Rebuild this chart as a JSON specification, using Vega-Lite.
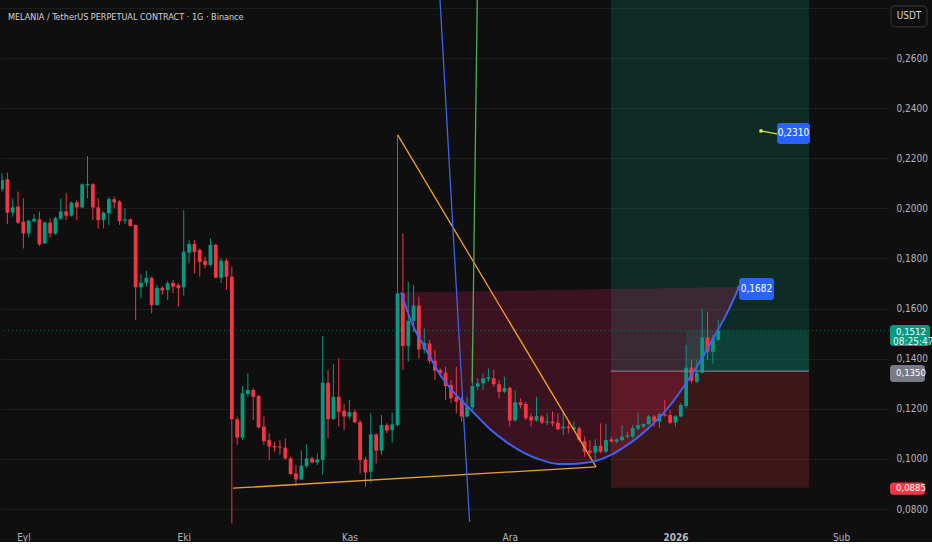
{
 "$schema": "https://vega.github.io/schema/vega-lite/v6.json",
 "width": 888, "height": 526, "padding": 0,
 "background": "#0f0f0f",
 "config": {
   "view": {"stroke": null},
   "font": "Liberation Sans Narrow, Noto Sans Condensed, DejaVu Sans Condensed, Roboto",
   "axis": {"domain": false, "ticks": false, "labelColor": "#b2b5be", "labelFontSize": 10, "labelFont": "Liberation Sans Narrow, Noto Sans Condensed, DejaVu Sans Condensed, Roboto", "title": null}
 },
 "resolve": {"scale": {"color": "independent", "strokeWidth": "independent", "size": "independent"}},
 "datasets": {
  "candles": [
{"t":"2025-08-28","o":0.2076,"h":0.2140,"l":0.2067,"c":0.2113},
{"t":"2025-08-29","o":0.2116,"h":0.2142,"l":0.1938,"c":0.1983},
{"t":"2025-08-30","o":0.1983,"h":0.2040,"l":0.1967,"c":0.2004},
{"t":"2025-08-31","o":0.2007,"h":0.2067,"l":0.1938,"c":0.1943},
{"t":"2025-09-01","o":0.1947,"h":0.2040,"l":0.1840,"c":0.1900},
{"t":"2025-09-02","o":0.1900,"h":0.1953,"l":0.1884,"c":0.1951},
{"t":"2025-09-03","o":0.1948,"h":0.1977,"l":0.1943,"c":0.1958},
{"t":"2025-09-04","o":0.1956,"h":0.1987,"l":0.1850,"c":0.1856},
{"t":"2025-09-05","o":0.1860,"h":0.1947,"l":0.1858,"c":0.1943},
{"t":"2025-09-06","o":0.1943,"h":0.1960,"l":0.1884,"c":0.1900},
{"t":"2025-09-07","o":0.1900,"h":0.1967,"l":0.1894,"c":0.1961},
{"t":"2025-09-08","o":0.1959,"h":0.2040,"l":0.1953,"c":0.1988},
{"t":"2025-09-09","o":0.1988,"h":0.2060,"l":0.1953,"c":0.1971},
{"t":"2025-09-10","o":0.1971,"h":0.2027,"l":0.1967,"c":0.2023},
{"t":"2025-09-11","o":0.2024,"h":0.2033,"l":0.1953,"c":0.2004},
{"t":"2025-09-12","o":0.2004,"h":0.2100,"l":0.2000,"c":0.2096},
{"t":"2025-09-13","o":0.2092,"h":0.2209,"l":0.2040,"c":0.2097},
{"t":"2025-09-14","o":0.2096,"h":0.2100,"l":0.1953,"c":0.2004},
{"t":"2025-09-15","o":0.2004,"h":0.2040,"l":0.1920,"c":0.1953},
{"t":"2025-09-16","o":0.1953,"h":0.1987,"l":0.1920,"c":0.1983},
{"t":"2025-09-17","o":0.1980,"h":0.2047,"l":0.1934,"c":0.2037},
{"t":"2025-09-18","o":0.2036,"h":0.2047,"l":0.2000,"c":0.2023},
{"t":"2025-09-19","o":0.2027,"h":0.2033,"l":0.1934,"c":0.1949},
{"t":"2025-09-20","o":0.1951,"h":0.2000,"l":0.1938,"c":0.1956},
{"t":"2025-09-21","o":0.1956,"h":0.1960,"l":0.1927,"c":0.1930},
{"t":"2025-09-22","o":0.1934,"h":0.1934,"l":0.1555,"c":0.1685},
{"t":"2025-09-23","o":0.1685,"h":0.1738,"l":0.1641,"c":0.1703},
{"t":"2025-09-24","o":0.1703,"h":0.1751,"l":0.1687,"c":0.1723},
{"t":"2025-09-25","o":0.1723,"h":0.1727,"l":0.1581,"c":0.1614},
{"t":"2025-09-26","o":0.1614,"h":0.1694,"l":0.1612,"c":0.1683},
{"t":"2025-09-27","o":0.1683,"h":0.1690,"l":0.1654,"c":0.1672},
{"t":"2025-09-28","o":0.1674,"h":0.1710,"l":0.1634,"c":0.1701},
{"t":"2025-09-29","o":0.1703,"h":0.1714,"l":0.1661,"c":0.1687},
{"t":"2025-09-30","o":0.1694,"h":0.1701,"l":0.1608,"c":0.1681},
{"t":"2025-10-01","o":0.1685,"h":0.1993,"l":0.1652,"c":0.1827},
{"t":"2025-10-02","o":0.1823,"h":0.1874,"l":0.1781,"c":0.1858},
{"t":"2025-10-03","o":0.1858,"h":0.1874,"l":0.1741,"c":0.1826},
{"t":"2025-10-04","o":0.1834,"h":0.1840,"l":0.1727,"c":0.1786},
{"t":"2025-10-05","o":0.1791,"h":0.1807,"l":0.1761,"c":0.1774},
{"t":"2025-10-06","o":0.1774,"h":0.1880,"l":0.1767,"c":0.1854},
{"t":"2025-10-07","o":0.1854,"h":0.1860,"l":0.1721,"c":0.1723},
{"t":"2025-10-08","o":0.1723,"h":0.1800,"l":0.1701,"c":0.1791},
{"t":"2025-10-09","o":0.1791,"h":0.1800,"l":0.1674,"c":0.1727},
{"t":"2025-10-10","o":0.1727,"h":0.1767,"l":0.0743,"c":0.1158},
{"t":"2025-10-11","o":0.1158,"h":0.1169,"l":0.1056,"c":0.1085},
{"t":"2025-10-12","o":0.1085,"h":0.1291,"l":0.1075,"c":0.1262},
{"t":"2025-10-13","o":0.1259,"h":0.1341,"l":0.1248,"c":0.1275},
{"t":"2025-10-14","o":0.1275,"h":0.1282,"l":0.1155,"c":0.1248},
{"t":"2025-10-15","o":0.1251,"h":0.1255,"l":0.1122,"c":0.1126},
{"t":"2025-10-16","o":0.1129,"h":0.1169,"l":0.1056,"c":0.1071},
{"t":"2025-10-17","o":0.1075,"h":0.1102,"l":0.0996,"c":0.1049},
{"t":"2025-10-18","o":0.1052,"h":0.1069,"l":0.1029,"c":0.1046},
{"t":"2025-10-19","o":0.1049,"h":0.1075,"l":0.1016,"c":0.1045},
{"t":"2025-10-20","o":0.1045,"h":0.1082,"l":0.0996,"c":0.1002},
{"t":"2025-10-21","o":0.1002,"h":0.1009,"l":0.0936,"c":0.0940},
{"t":"2025-10-22","o":0.0942,"h":0.0976,"l":0.0892,"c":0.0918},
{"t":"2025-10-23","o":0.0918,"h":0.1033,"l":0.0916,"c":0.0973},
{"t":"2025-10-24","o":0.0972,"h":0.1058,"l":0.0962,"c":0.1002},
{"t":"2025-10-25","o":0.1002,"h":0.1009,"l":0.0982,"c":0.0986},
{"t":"2025-10-26","o":0.0986,"h":0.1022,"l":0.0976,"c":0.0998},
{"t":"2025-10-27","o":0.0996,"h":0.1490,"l":0.0936,"c":0.1304},
{"t":"2025-10-28","o":0.1304,"h":0.1355,"l":0.1082,"c":0.1159},
{"t":"2025-10-29","o":0.1159,"h":0.1379,"l":0.1155,"c":0.1248},
{"t":"2025-10-30","o":0.1248,"h":0.1401,"l":0.1129,"c":0.1188},
{"t":"2025-10-31","o":0.1192,"h":0.1219,"l":0.1115,"c":0.1169},
{"t":"2025-11-01","o":0.1169,"h":0.1235,"l":0.1158,"c":0.1187},
{"t":"2025-11-02","o":0.1187,"h":0.1198,"l":0.1142,"c":0.1146},
{"t":"2025-11-03","o":0.1147,"h":0.1155,"l":0.0942,"c":0.0996},
{"t":"2025-11-04","o":0.0998,"h":0.1009,"l":0.0889,"c":0.0946},
{"t":"2025-11-05","o":0.0949,"h":0.1182,"l":0.0905,"c":0.1098},
{"t":"2025-11-06","o":0.1098,"h":0.1102,"l":0.0982,"c":0.1033},
{"t":"2025-11-07","o":0.1033,"h":0.1175,"l":0.1016,"c":0.1135},
{"t":"2025-11-08","o":0.1135,"h":0.1142,"l":0.1102,"c":0.1113},
{"t":"2025-11-09","o":0.1115,"h":0.1185,"l":0.1065,"c":0.1138},
{"t":"2025-11-10","o":0.1135,"h":0.2293,"l":0.1129,"c":0.1661},
{"t":"2025-11-11","o":0.1661,"h":0.1900,"l":0.1355,"c":0.1451},
{"t":"2025-11-12","o":0.1451,"h":0.1707,"l":0.1388,"c":0.1551},
{"t":"2025-11-13","o":0.1551,"h":0.1694,"l":0.1508,"c":0.1612},
{"t":"2025-11-14","o":0.1612,"h":0.1648,"l":0.1401,"c":0.1437},
{"t":"2025-11-15","o":0.1437,"h":0.1521,"l":0.1421,"c":0.1464},
{"t":"2025-11-16","o":0.1461,"h":0.1475,"l":0.1381,"c":0.1391},
{"t":"2025-11-17","o":0.1392,"h":0.1435,"l":0.1315,"c":0.1352},
{"t":"2025-11-18","o":0.1355,"h":0.1361,"l":0.1328,"c":0.1342},
{"t":"2025-11-19","o":0.1344,"h":0.1368,"l":0.1235,"c":0.1291},
{"t":"2025-11-20","o":0.1295,"h":0.1315,"l":0.1222,"c":0.1242},
{"t":"2025-11-21","o":0.1248,"h":0.1368,"l":0.1182,"c":0.1228},
{"t":"2025-11-22","o":0.1235,"h":0.1248,"l":0.1149,"c":0.1169},
{"t":"2025-11-23","o":0.1169,"h":0.1248,"l":0.1165,"c":0.1208},
{"t":"2025-11-24","o":0.1206,"h":0.1448,"l":0.1195,"c":0.1291},
{"t":"2025-11-25","o":0.1288,"h":0.1322,"l":0.1275,"c":0.1302},
{"t":"2025-11-26","o":0.1302,"h":0.1342,"l":0.1275,"c":0.1322},
{"t":"2025-11-27","o":0.1318,"h":0.1361,"l":0.1308,"c":0.1326},
{"t":"2025-11-28","o":0.1322,"h":0.1355,"l":0.1288,"c":0.1298},
{"t":"2025-11-29","o":0.1298,"h":0.1315,"l":0.1242,"c":0.1268},
{"t":"2025-11-30","o":0.1268,"h":0.1328,"l":0.1262,"c":0.1284},
{"t":"2025-12-01","o":0.1284,"h":0.1288,"l":0.1129,"c":0.1153},
{"t":"2025-12-02","o":0.1153,"h":0.1275,"l":0.1149,"c":0.1226},
{"t":"2025-12-03","o":0.1226,"h":0.1242,"l":0.1202,"c":0.1215},
{"t":"2025-12-04","o":0.1219,"h":0.1228,"l":0.1155,"c":0.1162},
{"t":"2025-12-05","o":0.1169,"h":0.1182,"l":0.1129,"c":0.1153},
{"t":"2025-12-06","o":0.1153,"h":0.1248,"l":0.1149,"c":0.1171},
{"t":"2025-12-07","o":0.1169,"h":0.1175,"l":0.1139,"c":0.1145},
{"t":"2025-12-08","o":0.1145,"h":0.1182,"l":0.1135,"c":0.1149},
{"t":"2025-12-09","o":0.1149,"h":0.1189,"l":0.1129,"c":0.1142},
{"t":"2025-12-10","o":0.1145,"h":0.1182,"l":0.1115,"c":0.1118},
{"t":"2025-12-11","o":0.1122,"h":0.1189,"l":0.1095,"c":0.1129},
{"t":"2025-12-12","o":0.1129,"h":0.1149,"l":0.1102,"c":0.1122},
{"t":"2025-12-13","o":0.1118,"h":0.1149,"l":0.1115,"c":0.1126},
{"t":"2025-12-14","o":0.1122,"h":0.1129,"l":0.1069,"c":0.1075},
{"t":"2025-12-15","o":0.1071,"h":0.1089,"l":0.1009,"c":0.1029},
{"t":"2025-12-16","o":0.1033,"h":0.1075,"l":0.1016,"c":0.1025},
{"t":"2025-12-17","o":0.1025,"h":0.1078,"l":0.0996,"c":0.1052},
{"t":"2025-12-18","o":0.1052,"h":0.1142,"l":0.1022,"c":0.1029},
{"t":"2025-12-19","o":0.1029,"h":0.1139,"l":0.1022,"c":0.1075},
{"t":"2025-12-20","o":0.1078,"h":0.1089,"l":0.1065,"c":0.1069},
{"t":"2025-12-21","o":0.1069,"h":0.1082,"l":0.1062,"c":0.1078},
{"t":"2025-12-22","o":0.1075,"h":0.1135,"l":0.1069,"c":0.1089},
{"t":"2025-12-23","o":0.1089,"h":0.1109,"l":0.1082,"c":0.1094},
{"t":"2025-12-24","o":0.1089,"h":0.1135,"l":0.1082,"c":0.1123},
{"t":"2025-12-25","o":0.1121,"h":0.1185,"l":0.1115,"c":0.1134},
{"t":"2025-12-26","o":0.1129,"h":0.1142,"l":0.1122,"c":0.1139},
{"t":"2025-12-27","o":0.1139,"h":0.1175,"l":0.1135,"c":0.1169},
{"t":"2025-12-28","o":0.1169,"h":0.1175,"l":0.1129,"c":0.1149},
{"t":"2025-12-29","o":0.1149,"h":0.1185,"l":0.1122,"c":0.1178},
{"t":"2025-12-30","o":0.1178,"h":0.1235,"l":0.1169,"c":0.1173},
{"t":"2025-12-31","o":0.1175,"h":0.1195,"l":0.1139,"c":0.1145},
{"t":"2026-01-01","o":0.1145,"h":0.1175,"l":0.1129,"c":0.1171},
{"t":"2026-01-02","o":0.1169,"h":0.1222,"l":0.1166,"c":0.1215},
{"t":"2026-01-03","o":0.1211,"h":0.1455,"l":0.1202,"c":0.1364},
{"t":"2026-01-04","o":0.1364,"h":0.1395,"l":0.1302,"c":0.1312},
{"t":"2026-01-05","o":0.1308,"h":0.1395,"l":0.1302,"c":0.1344},
{"t":"2026-01-06","o":0.1344,"h":0.1597,"l":0.1341,"c":0.1485},
{"t":"2026-01-07","o":0.1485,"h":0.1588,"l":0.1395,"c":0.1428},
{"t":"2026-01-08","o":0.1428,"h":0.1494,"l":0.1381,"c":0.1481},
{"t":"2026-01-09","o":0.1475,"h":0.1554,"l":0.1472,"c":0.1512}
  ],
  "arc": [
{"t":"2025-11-10T15:36:00Z","p":0.1664,"q":0.1664},
{"t":"2025-11-13T02:00:00Z","p":0.1522,"q":0.1665},
{"t":"2025-11-14T22:48:00Z","p":0.1451,"q":0.1666},
{"t":"2025-11-18T03:07:00Z","p":0.1331,"q":0.1667},
{"t":"2025-11-21T07:26:00Z","p":0.1247,"q":0.1668},
{"t":"2025-11-24T07:26:00Z","p":0.1183,"q":0.1669},
{"t":"2025-11-27T11:46:00Z","p":0.1115,"q":0.1670},
{"t":"2025-11-30T16:05:00Z","p":0.1063,"q":0.1671},
{"t":"2025-12-03T15:50:00Z","p":0.1024,"q":0.1672},
{"t":"2025-12-06T20:10:00Z","p":0.0996,"q":0.1673},
{"t":"2025-12-10T00:29:00Z","p":0.0980,"q":0.1674},
{"t":"2025-12-12T10:48:00Z","p":0.0980,"q":0.1675},
{"t":"2025-12-14T21:22:00Z","p":0.0984,"q":0.1676},
{"t":"2025-12-17T03:07:00Z","p":0.0992,"q":0.1677},
{"t":"2025-12-19T22:34:00Z","p":0.1016,"q":0.1678},
{"t":"2025-12-22T08:53:00Z","p":0.1047,"q":0.1679},
{"t":"2025-12-24T23:46:00Z","p":0.1087,"q":0.1679},
{"t":"2025-12-27T23:31:00Z","p":0.1143,"q":0.1680},
{"t":"2025-12-31T03:50:00Z","p":0.1219,"q":0.1682},
{"t":"2026-01-02T23:46:00Z","p":0.1303,"q":0.1683},
{"t":"2026-01-05T18:43:00Z","p":0.1395,"q":0.1684},
{"t":"2026-01-08T05:02:00Z","p":0.1487,"q":0.1685},
{"t":"2026-01-10T19:55:00Z","p":0.1590,"q":0.1685},
{"t":"2026-01-12T21:22:00Z","p":0.1686,"q":0.1686}
  ],
  "zones": [
{"zone":"profit","t1":"2025-12-19T22:34:00Z","t2":"2026-01-25T23:30:00Z","p1":0.1350,"p2":0.30},
{"zone":"loss","t1":"2025-12-19T22:34:00Z","t2":"2026-01-25T23:30:00Z","p1":0.0885,"p2":0.1350},
{"zone":"open","t1":"2026-01-02T23:17:00Z","t2":"2026-01-25T23:30:00Z","p1":0.1350,"p2":0.1512}
  ],
  "segments": [
{"name":"support","t1":"2025-10-10T05:17:00Z","p1":0.0883,"t2":"2025-12-17T03:07:00Z","p2":0.0968},
{"name":"down","t1":"2025-11-10T00:43:00Z","p1":0.2293,"t2":"2025-12-17T03:07:00Z","p2":0.0968},
{"name":"steep","t1":"2025-11-17T22:48:00Z","p1":0.2832,"t2":"2025-11-23T11:31:00Z","p2":0.0748},
{"name":"green","t1":"2025-11-24T22:05:00Z","p1":0.2832,"t2":"2025-11-23T23:17:00Z","p2":0.1305},
{"name":"entry","t1":"2025-12-19T22:34:00Z","p1":0.1350,"t2":"2026-01-25T23:30:00Z","p2":0.1350},
{"name":"yellow","t1":"2026-01-17T00:00:00Z","p1":0.2309,"t2":"2026-01-20T00:00:00Z","p2":0.2297}
  ],
  "dots": [
{"k":"blue","t":"2026-01-12T21:22:00Z","p":0.1686},
{"k":"yellow","t":"2026-01-17T00:00:00Z","p":0.2309}
  ],
  "boxes": [
{"kind":"blue","t1":"2026-01-12T21:22:00Z","t2":"2026-01-19T10:19:00Z","p1":0.1722,"p2":0.1634},
{"kind":"blue","t1":"2026-01-20T00:00:00Z","t2":"2026-01-26T04:05:00Z","p1":0.2341,"p2":0.2257},
{"kind":"green","t1":"2026-02-10T03:22:00Z","t2":"2026-02-17T14:53:00Z","p1":0.1534,"p2":0.1451},
{"kind":"gray","t1":"2026-02-10T03:22:00Z","t2":"2026-02-16T16:19:00Z","p1":0.1375,"p2":0.1307},
{"kind":"red","t1":"2026-02-10T03:22:00Z","t2":"2026-02-16T16:19:00Z","p1":0.0906,"p2":0.0857}
  ],
  "usdt": [
{"t1":"2026-02-10T07:41:00Z","t2":"2026-02-17T01:26:00Z","p1":0.2808,"p2":0.2724}
  ],
  "leftText": [
{"kind":"title","t":"2025-08-29T02:53:00Z","p":0.2764,"label":"MELANIA / TetherUS PERPETUAL CONTRACT · 1G · Binance"},
{"kind":"tag","t":"2026-02-11T06:14:00Z","p":0.1505,"label":"0,1512"},
{"kind":"time","t":"2026-02-10T16:48:00Z","p":0.1465,"label":"08:25:47"},
{"kind":"tag","t":"2026-02-11T06:14:00Z","p":0.1342,"label":"0,1350"},
{"kind":"tag","t":"2026-02-11T06:14:00Z","p":0.0882,"label":"0,0885"}
  ],
  "centerText": [
{"kind":"tag","t":"2026-01-16T03:50:00Z","p":0.1678,"label":"0,1682"},
{"kind":"tag","t":"2026-01-23T01:55:00Z","p":0.2299,"label":"0,2310"},
{"kind":"title","t":"2026-02-13T16:34:00Z","p":0.2766,"label":"USDT"}
  ]
 },
 "layer": [
  {
   "data": {"name": "zones"},
   "mark": {"type": "rect", "clip": true, "opacity": 0.2},
   "encoding": {
    "x": {"field": "t1", "type": "temporal", "scale": {"type": "utc", "padding": 0, "domain": [{"year": 2025, "month": 8, "date": 27, "hours": 19, "minutes": 30, "utc": true}, {"year": 2026, "month": 2, "date": 9, "hours": 22, "minutes": 48, "utc": true}]},
      "axis": {"values": [{"year": 2025, "month": 9, "date": 1, "utc": true}, {"year": 2025, "month": 10, "date": 1, "utc": true}, {"year": 2025, "month": 11, "date": 1, "utc": true}, {"year": 2025, "month": 12, "date": 1, "utc": true}, {"year": 2026, "month": 1, "date": 1, "utc": true}, {"year": 2026, "month": 2, "date": 1, "utc": true}], "labelExpr": "utcmonth(datum.value) === 0 ? '' + utcyear(datum.value) : ['Oca','Şub','Mar','Nis','May','Haz','Tem','Ağu','Eyl','Eki','Kas','Ara'][utcmonth(datum.value)]", "labelFontWeight": {"condition": {"test": "utcmonth(datum.value) === 0", "value": "bold"}, "value": "normal"}, "grid": false, "labelPadding": 6}},
    "x2": {"field": "t2"},
    "y": {"field": "p1", "type": "quantitative", "scale": {"domain": [0.07322, 0.28315], "nice": false, "zero": false, "padding": 0},
      "axis": {"orient": "right", "values": [0.08, 0.10, 0.12, 0.14, 0.16, 0.18, 0.20, 0.22, 0.24, 0.26, 0.28], "grid": true, "gridColor": "#1e1e1e", "labelPadding": 7, "labelAlign": "left", "labelExpr": "datum.value > 0.27 ? '' : replace(format(datum.value, '.4f'), '.', ',')"}},
    "y2": {"field": "p2"},
    "color": {"field": "zone", "type": "nominal", "scale": {"domain": ["profit", "loss", "open"], "range": ["#089981", "#f23645", "#089981"]}, "legend": null}
   }
  },
  {
   "data": {"name": "arc"},
   "mark": {"type": "area", "interpolate": "monotone", "color": "#e91e63", "opacity": 0.2},
   "encoding": {
    "x": {"field": "t", "type": "temporal", "scale": {"type": "utc", "padding": 0, "domain": [{"year": 2025, "month": 8, "date": 27, "hours": 19, "minutes": 30, "utc": true}, {"year": 2026, "month": 2, "date": 9, "hours": 22, "minutes": 48, "utc": true}]},
      "axis": {"values": [{"year": 2025, "month": 9, "date": 1, "utc": true}, {"year": 2025, "month": 10, "date": 1, "utc": true}, {"year": 2025, "month": 11, "date": 1, "utc": true}, {"year": 2025, "month": 12, "date": 1, "utc": true}, {"year": 2026, "month": 1, "date": 1, "utc": true}, {"year": 2026, "month": 2, "date": 1, "utc": true}], "labelExpr": "utcmonth(datum.value) === 0 ? '' + utcyear(datum.value) : ['Oca','Şub','Mar','Nis','May','Haz','Tem','Ağu','Eyl','Eki','Kas','Ara'][utcmonth(datum.value)]", "labelFontWeight": {"condition": {"test": "utcmonth(datum.value) === 0", "value": "bold"}, "value": "normal"}, "grid": false, "labelPadding": 6}},
    "y": {"field": "p", "type": "quantitative", "scale": {"domain": [0.07322, 0.28315], "nice": false, "zero": false, "padding": 0},
      "axis": {"orient": "right", "values": [0.08, 0.10, 0.12, 0.14, 0.16, 0.18, 0.20, 0.22, 0.24, 0.26, 0.28], "grid": true, "gridColor": "#1e1e1e", "labelPadding": 7, "labelAlign": "left", "labelExpr": "datum.value > 0.27 ? '' : replace(format(datum.value, '.4f'), '.', ',')"}},
    "y2": {"field": "q"}
   }
  },
  {
   "data": {"name": "candles"},
   "mark": {"type": "rule", "strokeWidth": 1, "clip": true},
   "encoding": {
    "x": {"field": "t", "type": "temporal", "scale": {"type": "utc", "padding": 0, "domain": [{"year": 2025, "month": 8, "date": 27, "hours": 19, "minutes": 30, "utc": true}, {"year": 2026, "month": 2, "date": 9, "hours": 22, "minutes": 48, "utc": true}]},
      "axis": {"values": [{"year": 2025, "month": 9, "date": 1, "utc": true}, {"year": 2025, "month": 10, "date": 1, "utc": true}, {"year": 2025, "month": 11, "date": 1, "utc": true}, {"year": 2025, "month": 12, "date": 1, "utc": true}, {"year": 2026, "month": 1, "date": 1, "utc": true}, {"year": 2026, "month": 2, "date": 1, "utc": true}], "labelExpr": "utcmonth(datum.value) === 0 ? '' + utcyear(datum.value) : ['Oca','Şub','Mar','Nis','May','Haz','Tem','Ağu','Eyl','Eki','Kas','Ara'][utcmonth(datum.value)]", "labelFontWeight": {"condition": {"test": "utcmonth(datum.value) === 0", "value": "bold"}, "value": "normal"}, "grid": false, "labelPadding": 6}},
    "y": {"field": "l", "type": "quantitative", "scale": {"domain": [0.07322, 0.28315], "nice": false, "zero": false, "padding": 0},
      "axis": {"orient": "right", "values": [0.08, 0.10, 0.12, 0.14, 0.16, 0.18, 0.20, 0.22, 0.24, 0.26, 0.28], "grid": true, "gridColor": "#1e1e1e", "labelPadding": 7, "labelAlign": "left", "labelExpr": "datum.value > 0.27 ? '' : replace(format(datum.value, '.4f'), '.', ',')"}},
    "y2": {"field": "h"},
    "color": {"condition": {"test": "datum.c >= datum.o", "value": "#089981"}, "value": "#f23645"}
   }
  },
  {
   "data": {"name": "candles"},
   "mark": {"type": "bar", "size": 3.8, "clip": true},
   "encoding": {
    "x": {"field": "t", "type": "temporal", "scale": {"type": "utc", "padding": 0, "domain": [{"year": 2025, "month": 8, "date": 27, "hours": 19, "minutes": 30, "utc": true}, {"year": 2026, "month": 2, "date": 9, "hours": 22, "minutes": 48, "utc": true}]},
      "axis": {"values": [{"year": 2025, "month": 9, "date": 1, "utc": true}, {"year": 2025, "month": 10, "date": 1, "utc": true}, {"year": 2025, "month": 11, "date": 1, "utc": true}, {"year": 2025, "month": 12, "date": 1, "utc": true}, {"year": 2026, "month": 1, "date": 1, "utc": true}, {"year": 2026, "month": 2, "date": 1, "utc": true}], "labelExpr": "utcmonth(datum.value) === 0 ? '' + utcyear(datum.value) : ['Oca','Şub','Mar','Nis','May','Haz','Tem','Ağu','Eyl','Eki','Kas','Ara'][utcmonth(datum.value)]", "labelFontWeight": {"condition": {"test": "utcmonth(datum.value) === 0", "value": "bold"}, "value": "normal"}, "grid": false, "labelPadding": 6}},
    "y": {"field": "o", "type": "quantitative", "scale": {"domain": [0.07322, 0.28315], "nice": false, "zero": false, "padding": 0},
      "axis": {"orient": "right", "values": [0.08, 0.10, 0.12, 0.14, 0.16, 0.18, 0.20, 0.22, 0.24, 0.26, 0.28], "grid": true, "gridColor": "#1e1e1e", "labelPadding": 7, "labelAlign": "left", "labelExpr": "datum.value > 0.27 ? '' : replace(format(datum.value, '.4f'), '.', ',')"}},
    "y2": {"field": "c"},
    "color": {"condition": {"test": "datum.c >= datum.o", "value": "#089981"}, "value": "#f23645"}
   }
  },
  {
   "data": {"name": "segments"},
   "mark": {"type": "rule", "clip": true},
   "encoding": {
    "x": {"field": "t1", "type": "temporal", "scale": {"type": "utc", "padding": 0, "domain": [{"year": 2025, "month": 8, "date": 27, "hours": 19, "minutes": 30, "utc": true}, {"year": 2026, "month": 2, "date": 9, "hours": 22, "minutes": 48, "utc": true}]},
      "axis": {"values": [{"year": 2025, "month": 9, "date": 1, "utc": true}, {"year": 2025, "month": 10, "date": 1, "utc": true}, {"year": 2025, "month": 11, "date": 1, "utc": true}, {"year": 2025, "month": 12, "date": 1, "utc": true}, {"year": 2026, "month": 1, "date": 1, "utc": true}, {"year": 2026, "month": 2, "date": 1, "utc": true}], "labelExpr": "utcmonth(datum.value) === 0 ? '' + utcyear(datum.value) : ['Oca','Şub','Mar','Nis','May','Haz','Tem','Ağu','Eyl','Eki','Kas','Ara'][utcmonth(datum.value)]", "labelFontWeight": {"condition": {"test": "utcmonth(datum.value) === 0", "value": "bold"}, "value": "normal"}, "grid": false, "labelPadding": 6}},
    "x2": {"field": "t2"},
    "y": {"field": "p1", "type": "quantitative", "scale": {"domain": [0.07322, 0.28315], "nice": false, "zero": false, "padding": 0},
      "axis": {"orient": "right", "values": [0.08, 0.10, 0.12, 0.14, 0.16, 0.18, 0.20, 0.22, 0.24, 0.26, 0.28], "grid": true, "gridColor": "#1e1e1e", "labelPadding": 7, "labelAlign": "left", "labelExpr": "datum.value > 0.27 ? '' : replace(format(datum.value, '.4f'), '.', ',')"}},
    "y2": {"field": "p2"},
    "color": {"field": "name", "type": "nominal", "scale": {"domain": ["support", "down", "steep", "green", "entry", "yellow"], "range": ["#f0a030", "#f0a030", "#3f63e8", "#4caf50", "#787b86", "#e3e33b"]}, "legend": null},
    "strokeWidth": {"field": "name", "type": "nominal", "scale": {"domain": ["support", "down", "steep", "green", "entry", "yellow"], "range": [1.3, 1.3, 1.6, 1.3, 1.2, 1.5]}, "legend": null}
   }
  },
  {
   "data": {"name": "arc"},
   "mark": {"type": "line", "interpolate": "monotone", "color": "#4361ee", "strokeWidth": 2},
   "encoding": {
    "x": {"field": "t", "type": "temporal", "scale": {"type": "utc", "padding": 0, "domain": [{"year": 2025, "month": 8, "date": 27, "hours": 19, "minutes": 30, "utc": true}, {"year": 2026, "month": 2, "date": 9, "hours": 22, "minutes": 48, "utc": true}]},
      "axis": {"values": [{"year": 2025, "month": 9, "date": 1, "utc": true}, {"year": 2025, "month": 10, "date": 1, "utc": true}, {"year": 2025, "month": 11, "date": 1, "utc": true}, {"year": 2025, "month": 12, "date": 1, "utc": true}, {"year": 2026, "month": 1, "date": 1, "utc": true}, {"year": 2026, "month": 2, "date": 1, "utc": true}], "labelExpr": "utcmonth(datum.value) === 0 ? '' + utcyear(datum.value) : ['Oca','Şub','Mar','Nis','May','Haz','Tem','Ağu','Eyl','Eki','Kas','Ara'][utcmonth(datum.value)]", "labelFontWeight": {"condition": {"test": "utcmonth(datum.value) === 0", "value": "bold"}, "value": "normal"}, "grid": false, "labelPadding": 6}},
    "y": {"field": "p", "type": "quantitative", "scale": {"domain": [0.07322, 0.28315], "nice": false, "zero": false, "padding": 0},
      "axis": {"orient": "right", "values": [0.08, 0.10, 0.12, 0.14, 0.16, 0.18, 0.20, 0.22, 0.24, 0.26, 0.28], "grid": true, "gridColor": "#1e1e1e", "labelPadding": 7, "labelAlign": "left", "labelExpr": "datum.value > 0.27 ? '' : replace(format(datum.value, '.4f'), '.', ',')"}}
   }
  },
  {
   "data": {"values": [{"p": 0.1512}]},
   "mark": {"type": "rule", "color": "#089981", "strokeDash": [1, 3], "opacity": 0.6},
   "encoding": {
    "y": {"field": "p", "type": "quantitative", "scale": {"domain": [0.07322, 0.28315], "nice": false, "zero": false, "padding": 0},
      "axis": {"orient": "right", "values": [0.08, 0.10, 0.12, 0.14, 0.16, 0.18, 0.20, 0.22, 0.24, 0.26, 0.28], "grid": true, "gridColor": "#1e1e1e", "labelPadding": 7, "labelAlign": "left", "labelExpr": "datum.value > 0.27 ? '' : replace(format(datum.value, '.4f'), '.', ',')"}}
   }
  },
  {
   "data": {"name": "dots"},
   "mark": {"type": "point", "filled": true, "size": 14, "opacity": 1},
   "encoding": {
    "x": {"field": "t", "type": "temporal", "scale": {"type": "utc", "padding": 0, "domain": [{"year": 2025, "month": 8, "date": 27, "hours": 19, "minutes": 30, "utc": true}, {"year": 2026, "month": 2, "date": 9, "hours": 22, "minutes": 48, "utc": true}]},
      "axis": {"values": [{"year": 2025, "month": 9, "date": 1, "utc": true}, {"year": 2025, "month": 10, "date": 1, "utc": true}, {"year": 2025, "month": 11, "date": 1, "utc": true}, {"year": 2025, "month": 12, "date": 1, "utc": true}, {"year": 2026, "month": 1, "date": 1, "utc": true}, {"year": 2026, "month": 2, "date": 1, "utc": true}], "labelExpr": "utcmonth(datum.value) === 0 ? '' + utcyear(datum.value) : ['Oca','Şub','Mar','Nis','May','Haz','Tem','Ağu','Eyl','Eki','Kas','Ara'][utcmonth(datum.value)]", "labelFontWeight": {"condition": {"test": "utcmonth(datum.value) === 0", "value": "bold"}, "value": "normal"}, "grid": false, "labelPadding": 6}},
    "y": {"field": "p", "type": "quantitative", "scale": {"domain": [0.07322, 0.28315], "nice": false, "zero": false, "padding": 0},
      "axis": {"orient": "right", "values": [0.08, 0.10, 0.12, 0.14, 0.16, 0.18, 0.20, 0.22, 0.24, 0.26, 0.28], "grid": true, "gridColor": "#1e1e1e", "labelPadding": 7, "labelAlign": "left", "labelExpr": "datum.value > 0.27 ? '' : replace(format(datum.value, '.4f'), '.', ',')"}},
    "color": {"field": "k", "type": "nominal", "scale": {"domain": ["blue", "yellow"], "range": ["#4361ee", "#e3e33b"]}, "legend": null}
   }
  },
  {
   "data": {"name": "boxes"},
   "mark": {"type": "rect", "cornerRadius": 3},
   "encoding": {
    "x": {"field": "t1", "type": "temporal", "scale": {"type": "utc", "padding": 0, "domain": [{"year": 2025, "month": 8, "date": 27, "hours": 19, "minutes": 30, "utc": true}, {"year": 2026, "month": 2, "date": 9, "hours": 22, "minutes": 48, "utc": true}]},
      "axis": {"values": [{"year": 2025, "month": 9, "date": 1, "utc": true}, {"year": 2025, "month": 10, "date": 1, "utc": true}, {"year": 2025, "month": 11, "date": 1, "utc": true}, {"year": 2025, "month": 12, "date": 1, "utc": true}, {"year": 2026, "month": 1, "date": 1, "utc": true}, {"year": 2026, "month": 2, "date": 1, "utc": true}], "labelExpr": "utcmonth(datum.value) === 0 ? '' + utcyear(datum.value) : ['Oca','Şub','Mar','Nis','May','Haz','Tem','Ağu','Eyl','Eki','Kas','Ara'][utcmonth(datum.value)]", "labelFontWeight": {"condition": {"test": "utcmonth(datum.value) === 0", "value": "bold"}, "value": "normal"}, "grid": false, "labelPadding": 6}},
    "x2": {"field": "t2"},
    "y": {"field": "p1", "type": "quantitative", "scale": {"domain": [0.07322, 0.28315], "nice": false, "zero": false, "padding": 0},
      "axis": {"orient": "right", "values": [0.08, 0.10, 0.12, 0.14, 0.16, 0.18, 0.20, 0.22, 0.24, 0.26, 0.28], "grid": true, "gridColor": "#1e1e1e", "labelPadding": 7, "labelAlign": "left", "labelExpr": "datum.value > 0.27 ? '' : replace(format(datum.value, '.4f'), '.', ',')"}},
    "y2": {"field": "p2"},
    "color": {"field": "kind", "type": "nominal", "scale": {"domain": ["blue", "green", "gray", "red"], "range": ["#2962ff", "#089981", "#787b86", "#f23645"]}, "legend": null}
   }
  },
  {
   "data": {"name": "usdt"},
   "mark": {"type": "rect", "cornerRadius": 4, "fill": "#0f0f0f", "stroke": "#3a3d45", "strokeWidth": 1},
   "encoding": {
    "x": {"field": "t1", "type": "temporal", "scale": {"type": "utc", "padding": 0, "domain": [{"year": 2025, "month": 8, "date": 27, "hours": 19, "minutes": 30, "utc": true}, {"year": 2026, "month": 2, "date": 9, "hours": 22, "minutes": 48, "utc": true}]},
      "axis": {"values": [{"year": 2025, "month": 9, "date": 1, "utc": true}, {"year": 2025, "month": 10, "date": 1, "utc": true}, {"year": 2025, "month": 11, "date": 1, "utc": true}, {"year": 2025, "month": 12, "date": 1, "utc": true}, {"year": 2026, "month": 1, "date": 1, "utc": true}, {"year": 2026, "month": 2, "date": 1, "utc": true}], "labelExpr": "utcmonth(datum.value) === 0 ? '' + utcyear(datum.value) : ['Oca','Şub','Mar','Nis','May','Haz','Tem','Ağu','Eyl','Eki','Kas','Ara'][utcmonth(datum.value)]", "labelFontWeight": {"condition": {"test": "utcmonth(datum.value) === 0", "value": "bold"}, "value": "normal"}, "grid": false, "labelPadding": 6}},
    "x2": {"field": "t2"},
    "y": {"field": "p1", "type": "quantitative", "scale": {"domain": [0.07322, 0.28315], "nice": false, "zero": false, "padding": 0},
      "axis": {"orient": "right", "values": [0.08, 0.10, 0.12, 0.14, 0.16, 0.18, 0.20, 0.22, 0.24, 0.26, 0.28], "grid": true, "gridColor": "#1e1e1e", "labelPadding": 7, "labelAlign": "left", "labelExpr": "datum.value > 0.27 ? '' : replace(format(datum.value, '.4f'), '.', ',')"}},
    "y2": {"field": "p2"}
   }
  },
  {
   "data": {"name": "leftText"},
   "mark": {"type": "text", "align": "left", "baseline": "middle"},
   "encoding": {
    "x": {"field": "t", "type": "temporal", "scale": {"type": "utc", "padding": 0, "domain": [{"year": 2025, "month": 8, "date": 27, "hours": 19, "minutes": 30, "utc": true}, {"year": 2026, "month": 2, "date": 9, "hours": 22, "minutes": 48, "utc": true}]},
      "axis": {"values": [{"year": 2025, "month": 9, "date": 1, "utc": true}, {"year": 2025, "month": 10, "date": 1, "utc": true}, {"year": 2025, "month": 11, "date": 1, "utc": true}, {"year": 2025, "month": 12, "date": 1, "utc": true}, {"year": 2026, "month": 1, "date": 1, "utc": true}, {"year": 2026, "month": 2, "date": 1, "utc": true}], "labelExpr": "utcmonth(datum.value) === 0 ? '' + utcyear(datum.value) : ['Oca','Şub','Mar','Nis','May','Haz','Tem','Ağu','Eyl','Eki','Kas','Ara'][utcmonth(datum.value)]", "labelFontWeight": {"condition": {"test": "utcmonth(datum.value) === 0", "value": "bold"}, "value": "normal"}, "grid": false, "labelPadding": 6}},
    "y": {"field": "p", "type": "quantitative", "scale": {"domain": [0.07322, 0.28315], "nice": false, "zero": false, "padding": 0},
      "axis": {"orient": "right", "values": [0.08, 0.10, 0.12, 0.14, 0.16, 0.18, 0.20, 0.22, 0.24, 0.26, 0.28], "grid": true, "gridColor": "#1e1e1e", "labelPadding": 7, "labelAlign": "left", "labelExpr": "datum.value > 0.27 ? '' : replace(format(datum.value, '.4f'), '.', ',')"}},
    "text": {"field": "label"},
    "size": {"field": "kind", "type": "ordinal", "scale": {"domain": ["title", "tag", "time"], "range": [9, 10, 9]}, "legend": null},
    "color": {"field": "kind", "type": "nominal", "scale": {"domain": ["title", "tag", "time"], "range": ["#d1d4dc", "#ffffff", "#e8f5f2"]}, "legend": null}
   }
  },
  {
   "data": {"name": "centerText"},
   "mark": {"type": "text", "align": "center", "baseline": "middle", "fontSize": 10},
   "encoding": {
    "x": {"field": "t", "type": "temporal", "scale": {"type": "utc", "padding": 0, "domain": [{"year": 2025, "month": 8, "date": 27, "hours": 19, "minutes": 30, "utc": true}, {"year": 2026, "month": 2, "date": 9, "hours": 22, "minutes": 48, "utc": true}]},
      "axis": {"values": [{"year": 2025, "month": 9, "date": 1, "utc": true}, {"year": 2025, "month": 10, "date": 1, "utc": true}, {"year": 2025, "month": 11, "date": 1, "utc": true}, {"year": 2025, "month": 12, "date": 1, "utc": true}, {"year": 2026, "month": 1, "date": 1, "utc": true}, {"year": 2026, "month": 2, "date": 1, "utc": true}], "labelExpr": "utcmonth(datum.value) === 0 ? '' + utcyear(datum.value) : ['Oca','Şub','Mar','Nis','May','Haz','Tem','Ağu','Eyl','Eki','Kas','Ara'][utcmonth(datum.value)]", "labelFontWeight": {"condition": {"test": "utcmonth(datum.value) === 0", "value": "bold"}, "value": "normal"}, "grid": false, "labelPadding": 6}},
    "y": {"field": "p", "type": "quantitative", "scale": {"domain": [0.07322, 0.28315], "nice": false, "zero": false, "padding": 0},
      "axis": {"orient": "right", "values": [0.08, 0.10, 0.12, 0.14, 0.16, 0.18, 0.20, 0.22, 0.24, 0.26, 0.28], "grid": true, "gridColor": "#1e1e1e", "labelPadding": 7, "labelAlign": "left", "labelExpr": "datum.value > 0.27 ? '' : replace(format(datum.value, '.4f'), '.', ',')"}},
    "text": {"field": "label"},
    "color": {"field": "kind", "type": "nominal", "scale": {"domain": ["title", "tag"], "range": ["#d1d4dc", "#ffffff"]}, "legend": null}
   }
  }
 ]
}
